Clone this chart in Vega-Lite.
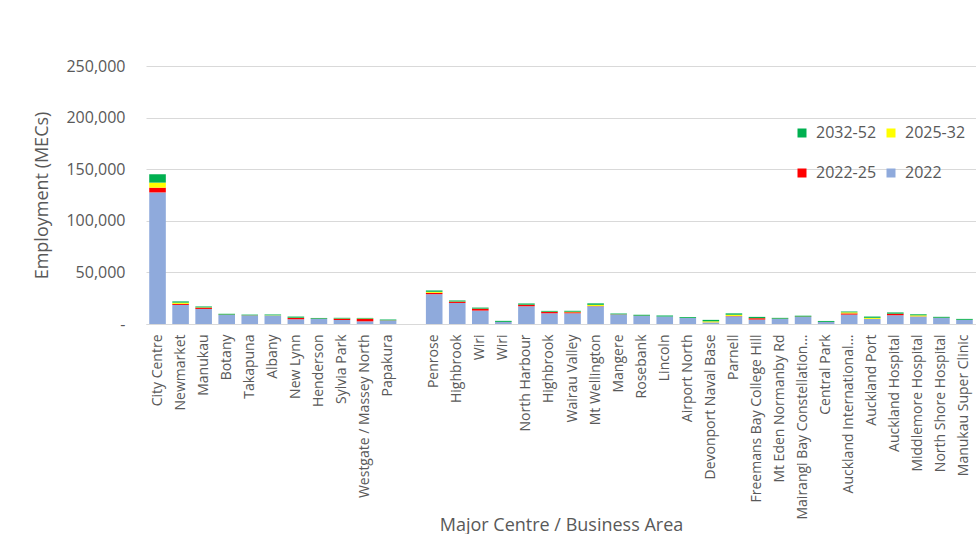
{
  "$schema": "https://vega.github.io/schema/vega-lite/v6.json",
  "width": 830,
  "height": 258,
  "autosize": {"type": "none"},
  "padding": {"left": 146, "top": 66, "right": 0, "bottom": 210},
  "background": "white",
  "config": {
    "font": "Open Sans",
    "view": {"stroke": null}
  },
  "data": {
    "values": [
      {"k": "01|City Centre", "2022": 127500, "2022-25": 4600, "2025-32": 4900, "2032-52": 8100},
      {"k": "02|Newmarket", "2022": 18500, "2022-25": 1000, "2025-32": 1200, "2032-52": 1200},
      {"k": "03|Manukau", "2022": 14600, "2022-25": 1200, "2025-32": 300, "2032-52": 900},
      {"k": "04|Botany", "2022": 8800, "2022-25": 200, "2025-32": 100, "2032-52": 800},
      {"k": "05|Takapuna", "2022": 8200, "2022-25": 150, "2025-32": 50, "2032-52": 700},
      {"k": "06|Albany", "2022": 8200, "2022-25": 150, "2025-32": 50, "2032-52": 700},
      {"k": "07|New Lynn", "2022": 4600, "2022-25": 1300, "2025-32": 200, "2032-52": 1100},
      {"k": "08|Henderson", "2022": 4900, "2022-25": 200, "2025-32": 50, "2032-52": 700},
      {"k": "09|Sylvia Park", "2022": 3900, "2022-25": 1200, "2025-32": 200, "2032-52": 700},
      {"k": "10|Westgate / Massey North", "2022": 2600, "2022-25": 2400, "2025-32": 300, "2032-52": 600},
      {"k": "11|Papakura", "2022": 3300, "2022-25": 200, "2025-32": 50, "2032-52": 800},
      {"k": "12|", "2022": 0, "2022-25": 0, "2025-32": 0, "2032-52": 0},
      {"k": "13|Penrose", "2022": 28900, "2022-25": 1300, "2025-32": 1000, "2032-52": 1300},
      {"k": "14|Highbrook", "2022": 20400, "2022-25": 1200, "2025-32": 200, "2032-52": 1000},
      {"k": "15|Wiri", "2022": 13000, "2022-25": 1800, "2025-32": 100, "2032-52": 1000},
      {"k": "16|Wiri", "2022": 1900, "2022-25": 100, "2025-32": 50, "2032-52": 1000},
      {"k": "17|North Harbour", "2022": 17200, "2022-25": 1400, "2025-32": 100, "2032-52": 1200},
      {"k": "18|Highbrook", "2022": 10400, "2022-25": 1200, "2025-32": 300, "2032-52": 800},
      {"k": "19|Wairau Valley", "2022": 10400, "2022-25": 1000, "2025-32": 500, "2032-52": 900},
      {"k": "20|Mt Wellington", "2022": 17200, "2022-25": 200, "2025-32": 1200, "2032-52": 1400},
      {"k": "21|Mangere", "2022": 9100, "2022-25": 200, "2025-32": 50, "2032-52": 800},
      {"k": "22|Rosebank", "2022": 7800, "2022-25": 200, "2025-32": 50, "2032-52": 900},
      {"k": "23|Lincoln", "2022": 7200, "2022-25": 100, "2025-32": 50, "2032-52": 800},
      {"k": "24|Airport North", "2022": 5800, "2022-25": 100, "2025-32": 50, "2032-52": 800},
      {"k": "25|Devonport Naval Base", "2022": 1500, "2022-25": 100, "2025-32": 1000, "2032-52": 1400},
      {"k": "26|Parnell", "2022": 7500, "2022-25": 300, "2025-32": 1200, "2032-52": 1300},
      {"k": "27|Freemans Bay College Hill", "2022": 4300, "2022-25": 1300, "2025-32": 100, "2032-52": 1200},
      {"k": "28|Mt Eden Normanby Rd", "2022": 4900, "2022-25": 200, "2025-32": 50, "2032-52": 800},
      {"k": "29|Mairangi Bay Constellation...", "2022": 6800, "2022-25": 300, "2025-32": 50, "2032-52": 900},
      {"k": "30|Central Park", "2022": 1900, "2022-25": 100, "2025-32": 50, "2032-52": 900},
      {"k": "31|Auckland International...", "2022": 9100, "2022-25": 1200, "2025-32": 1000, "2032-52": 800},
      {"k": "32|Auckland Port", "2022": 4900, "2022-25": 100, "2025-32": 1000, "2032-52": 1200},
      {"k": "33|Auckland Hospital", "2022": 8500, "2022-25": 1400, "2025-32": 100, "2032-52": 1200},
      {"k": "34|Middlemore Hospital", "2022": 7200, "2022-25": 200, "2025-32": 1000, "2032-52": 1000},
      {"k": "35|North Shore Hospital", "2022": 5800, "2022-25": 200, "2025-32": 50, "2032-52": 900},
      {"k": "36|Manukau Super Clinic", "2022": 3900, "2022-25": 100, "2025-32": 50, "2032-52": 900}
    ]
  },
  "transform": [
    {"fold": ["2022", "2022-25", "2025-32", "2032-52"], "as": ["period", "value"]}
  ],
  "mark": {"type": "bar"},
  "encoding": {
    "x": {
      "field": "k",
      "type": "nominal",
      "sort": "ascending",
      "scale": {"paddingInner": 0.28, "paddingOuter": 0.14},
      "axis": {
        "title": "Major Centre / Business Area",
        "titleFontSize": 18,
        "titleFontWeight": "normal",
        "titleColor": "#595959",
        "titleY": 206,
        "titleBaseline": "alphabetic",
        "labelExpr": "split(datum.label, '|')[1]",
        "labelAngle": -90,
        "labelFontSize": 14,
        "labelColor": "#595959",
        "labelPadding": 10,
        "labelLimit": 300,
        "ticks": false,
        "domain": true,
        "domainColor": "#D9D9D9",
        "grid": false
      }
    },
    "y": {
      "field": "value",
      "type": "quantitative",
      "stack": "zero",
      "scale": {"domain": [0, 250000], "nice": false},
      "axis": {
        "title": "Employment (MECs)",
        "titleFontSize": 18,
        "titleFontWeight": "normal",
        "titleColor": "#595959",
        "titlePadding": 14,
        "values": [0, 50000, 100000, 150000, 200000, 250000],
        "labelExpr": "datum.value == 0 ? '-' : format(datum.value, ',')",
        "labelFontSize": 16,
        "labelColor": "#595959",
        "labelPadding": 21,
        "ticks": false,
        "domain": false,
        "grid": true,
        "gridColor": "#D9D9D9"
      }
    },
    "color": {
      "field": "period",
      "type": "nominal",
      "scale": {
        "domain": ["2032-52", "2022-25", "2025-32", "2022"],
        "range": ["#00B050", "#FF0000", "#FFFF00", "#8FAADC"]
      },
      "legend": {
        "orient": "none",
        "legendX": 648,
        "legendY": 59,
        "columns": 2,
        "title": null,
        "symbolType": "square",
        "symbolSize": 81,
        "symbolStrokeWidth": 0,
        "labelFontSize": 16,
        "labelColor": "#595959",
        "labelOffset": 6,
        "columnPadding": 6,
        "rowPadding": 24
      }
    },
    "order": {"field": "period", "sort": "ascending"}
  }
}
